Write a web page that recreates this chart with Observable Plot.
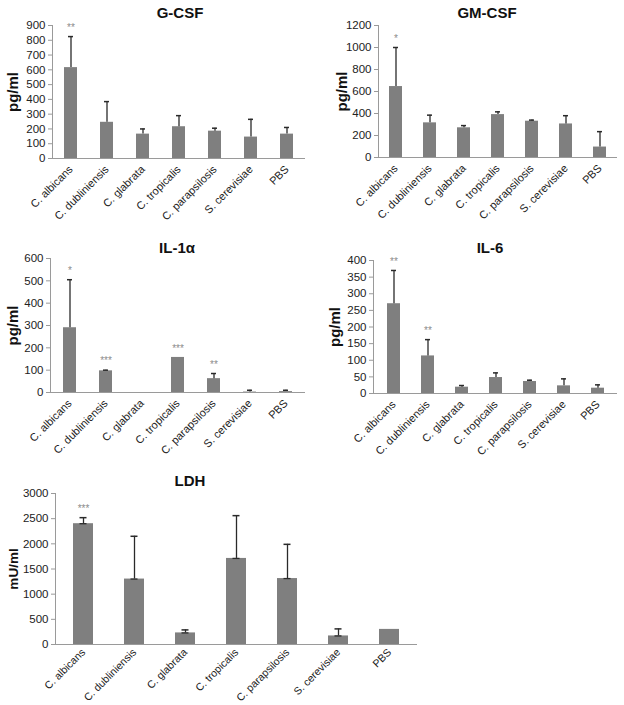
<!DOCTYPE html>
<html><head><meta charset="utf-8">
<script src="https://cdn.jsdelivr.net/npm/d3@7"></script>
<script src="https://cdn.jsdelivr.net/npm/@observablehq/plot@0.6"></script>
<style>
body{margin:0;background:#fff;font-family:"Liberation Sans",Arial,sans-serif;}
#root{position:relative;width:624px;height:705px;overflow:hidden;background:#fff;}
.panel{position:absolute;}
.title{position:absolute;font-weight:bold;font-size:15px;transform:translate(-50%,-50%);white-space:nowrap;color:#111;}
</style></head><body><div id="root"></div>
<script>
const categories = ["C. albicans","C. dubliniensis","C. glabrata","C. tropicalis","C. parapsilosis","S. cerevisiae","PBS"];

const gcsfMean  = [615, 245, 165, 215, 185, 145, 165];
const gcsfErr   = [210, 140, 35, 75, 20, 120, 45];
const gcsfStars = ["**", "", "", "", "", "", ""];
const gcsfTicks = [0,100,200,300,400,500,600,700,800,900];

const gmcsfMean  = [645, 315, 270, 390, 330, 305, 95];
const gmcsfErr   = [355, 70, 20, 25, 10, 75, 140];
const gmcsfStars = ["*", "", "", "", "", "", ""];
const gmcsfTicks = [0,200,400,600,800,1000,1200];

const il1aMean  = [290, 97, 0, 157, 62, 2, 4];
const il1aErr   = [215, 3, 0, 0, 23, 8, 6];
const il1aStars = ["*", "***", "", "***", "**", "", ""];
const il1aTicks = [0,100,200,300,400,500,600];

const il6Mean  = [270, 113, 19, 48, 36, 23, 16];
const il6Err   = [100, 49, 5, 14, 4, 21, 10];
const il6Stars = ["**", "**", "", "", "", "", ""];
const il6Ticks = [0,50,100,150,200,250,300,350,400];

const ldhMean  = [2400, 1300, 230, 1710, 1310, 170, 300];
const ldhErr   = [120, 850, 60, 850, 680, 140, 0];
const ldhStars = ["***", "", "", "", "", "", ""];
const ldhTicks = [0,500,1000,1500,2000,2500,3000];

const root = document.getElementById("root");
const FONT = "Liberation Sans, Arial, sans-serif";

function panel(o) {
  const data = categories.map((c, i) => ({cat: c, mean: o.mean[i], err: o.err[i], star: o.stars[i]}));
  const errData = data.filter(d => d.err > 0);
  const starData = data.filter(d => d.star);
  const marks = [
    Plot.barY(data, {x: "cat", y: "mean", fill: "#7f7f7f"}),
    Plot.ruleX(errData, {x: "cat", y1: "mean", y2: d => d.mean + d.err, stroke: "#2a2a2a", strokeWidth: 1.3}),
    Plot.tickY(errData, {x: "cat", y: d => d.mean + d.err, stroke: "#2a2a2a", strokeWidth: 1.5, insetLeft: o.capInset, insetRight: o.capInset})
  ];
  if (o.baseCap) marks.push(Plot.tickY(errData, {x: "cat", y: "mean", stroke: "#2a2a2a", strokeWidth: 1.3, insetLeft: o.capInset, insetRight: o.capInset}));
  marks.push(
    Plot.text(starData, {x: "cat", y: d => d.mean + d.err, text: "star", dy: -9, fill: "#8c8c8c", fontSize: 10}),
    Plot.ruleY([0], {stroke: "#9a9a9a"}),
    Plot.frame({anchor: "left", stroke: "#9a9a9a"}),
    Plot.axisY({ticks: o.ticks, tickFormat: d3.format("d"), tickSize: 4, tickPadding: 3, stroke: "#9a9a9a", label: null, fontSize: 11.5}),
    Plot.axisX({tickRotate: -45, tickSize: 0, tickPadding: o.xPad, label: null, fontSize: o.xFont}),
    Plot.text([o.label], {frameAnchor: "left", textAnchor: "middle", dx: -o.labelOffset, rotate: -90, fontWeight: "bold", fontSize: o.labelSize, fill: "#111"})
  );
  const chart = Plot.plot({
    width: o.width, height: o.height,
    marginLeft: o.ml, marginTop: o.mt, marginBottom: o.mb, marginRight: o.mr,
    style: {fontFamily: FONT, color: "#222", background: "transparent", overflow: "visible"},
    x: {domain: categories, paddingInner: o.pad, paddingOuter: o.pad / 2, label: null},
    y: {domain: [o.ticks[0], o.ticks[o.ticks.length - 1]], label: null},
    marks
  });
  const wrap = document.createElement("div");
  wrap.className = "panel";
  wrap.style.left = o.left + "px";
  wrap.style.top = o.top + "px";
  wrap.appendChild(chart);
  root.appendChild(wrap);
  const t = document.createElement("div");
  t.className = "title";
  t.textContent = o.title;
  t.style.left = o.tx + "px";
  t.style.top = o.ty + "px";
  root.appendChild(t);
}

panel({title: "G-CSF", tx: 180, ty: 12, left: 0, top: 0, width: 310, height: 240, ml: 52, mt: 25, mb: 82, mr: 5, xPad: 9, xFont: 11,
  ticks: gcsfTicks, mean: gcsfMean, err: gcsfErr, stars: gcsfStars, label: "pg/ml", labelSize: 15, labelOffset: 39, pad: 0.63, capInset: 4});
panel({title: "GM-CSF", tx: 487, ty: 12, left: 310, top: 0, width: 314, height: 240, ml: 68, mt: 25, mb: 83, mr: 7, xPad: 9, xFont: 11,
  ticks: gmcsfTicks, mean: gmcsfMean, err: gmcsfErr, stars: gmcsfStars, label: "pg/ml", labelSize: 15, labelOffset: 36, pad: 0.63, capInset: 4});
panel({title: "IL-1α", tx: 177, ty: 247, left: 0, top: 240, width: 310, height: 230, ml: 50, mt: 18, mb: 78, mr: 5, xPad: 9, xFont: 11,
  ticks: il1aTicks, mean: il1aMean, err: il1aErr, stars: il1aStars, label: "pg/ml", labelSize: 15, labelOffset: 37, pad: 0.63, capInset: 4});
panel({title: "IL-6", tx: 490, ty: 247, left: 310, top: 240, width: 314, height: 230, ml: 63, mt: 20, mb: 77, mr: 7, xPad: 9, xFont: 11,
  ticks: il6Ticks, mean: il6Mean, err: il6Err, stars: il6Stars, label: "pg/ml", labelSize: 15, labelOffset: 38, pad: 0.63, capInset: 4});
panel({title: "LDH", tx: 190, ty: 480, left: 0, top: 470, width: 420, height: 235, ml: 55, mt: 23, mb: 61, mr: 3, xPad: 6, xFont: 10.6,
  ticks: ldhTicks, mean: ldhMean, err: ldhErr, stars: ldhStars, label: "mU/ml", labelSize: 13.5, labelOffset: 42, pad: 0.61, capInset: 6.5, baseCap: true});
</script>
</body></html>
